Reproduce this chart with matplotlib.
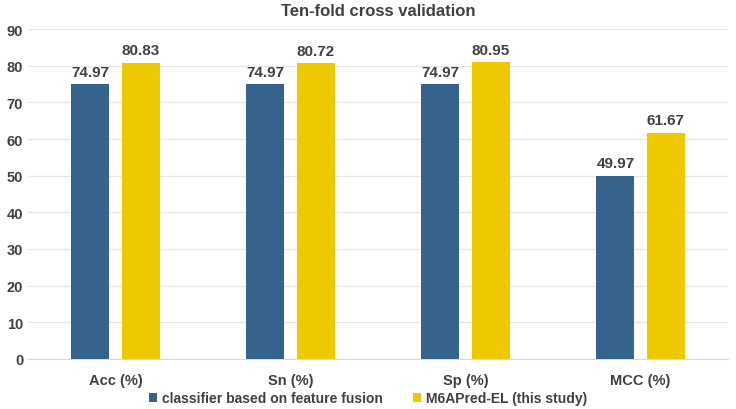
import numpy as np
import matplotlib.pyplot as plt

categories = ['Acc (%)', 'Sn (%)', 'Sp (%)', 'MCC (%)']
fusion = [74.97, 74.97, 74.97, 49.97]
m6apred = [80.83, 80.72, 80.95, 61.67]
series_names = ['classifier based on feature fusion', 'M6APred-EL (this study)']

plt.rcParams['font.family'] = ['Liberation Sans', 'DejaVu Sans']
text_color = '#404040'

fig = plt.figure(figsize=(7.36, 4.10), dpi=100)
ax = fig.add_axes([28 / 736, 1 - 360 / 410, 700 / 736, 330 / 410])

x = np.arange(len(categories))
w = 0.217
off = 0.143
b1 = ax.bar(x - off, fusion, w, color='#35638B', label=series_names[0], zorder=3)
b2 = ax.bar(x + off, m6apred, w, color='#EEC900', label=series_names[1], zorder=3)

for bars in (b1, b2):
    for rect in bars:
        h = rect.get_height()
        ax.text(rect.get_x() + rect.get_width() / 2, h + 1.5, f'{h:.2f}',
                ha='center', va='bottom', fontsize=11, fontweight='bold', color=text_color)

ax.set_xlim(-0.5, len(categories) - 0.5)
ax.set_ylim(0, 90)
ax.set_yticks(range(0, 91, 10))
ax.set_xticks(x)
ax.set_xticklabels(categories)
ax.grid(axis='y', color='#E6E6E6', linewidth=1, zorder=0)
for s in ['top', 'right', 'left']:
    ax.spines[s].set_visible(False)
ax.spines['bottom'].set_color('#D9D9D9')
ax.tick_params(axis='both', length=0, labelsize=10.5, labelcolor=text_color)
ax.tick_params(axis='x', pad=10)
for lbl in ax.get_xticklabels() + ax.get_yticklabels():
    lbl.set_fontweight('bold')

ax.set_title('Ten-fold cross validation', fontsize=12, fontweight='bold', color=text_color, pad=10)

leg = fig.legend(loc='center', bbox_to_anchor=(0.5, 1 - 399 / 410), ncol=2, frameon=False,
                 fontsize=10, handlelength=0.6, handleheight=0.6, handletextpad=0.3,
                 columnspacing=2.2, borderpad=0)
for t in leg.get_texts():
    t.set_color(text_color)
    t.set_fontweight('bold')

fig.savefig('out.png', dpi=100)
